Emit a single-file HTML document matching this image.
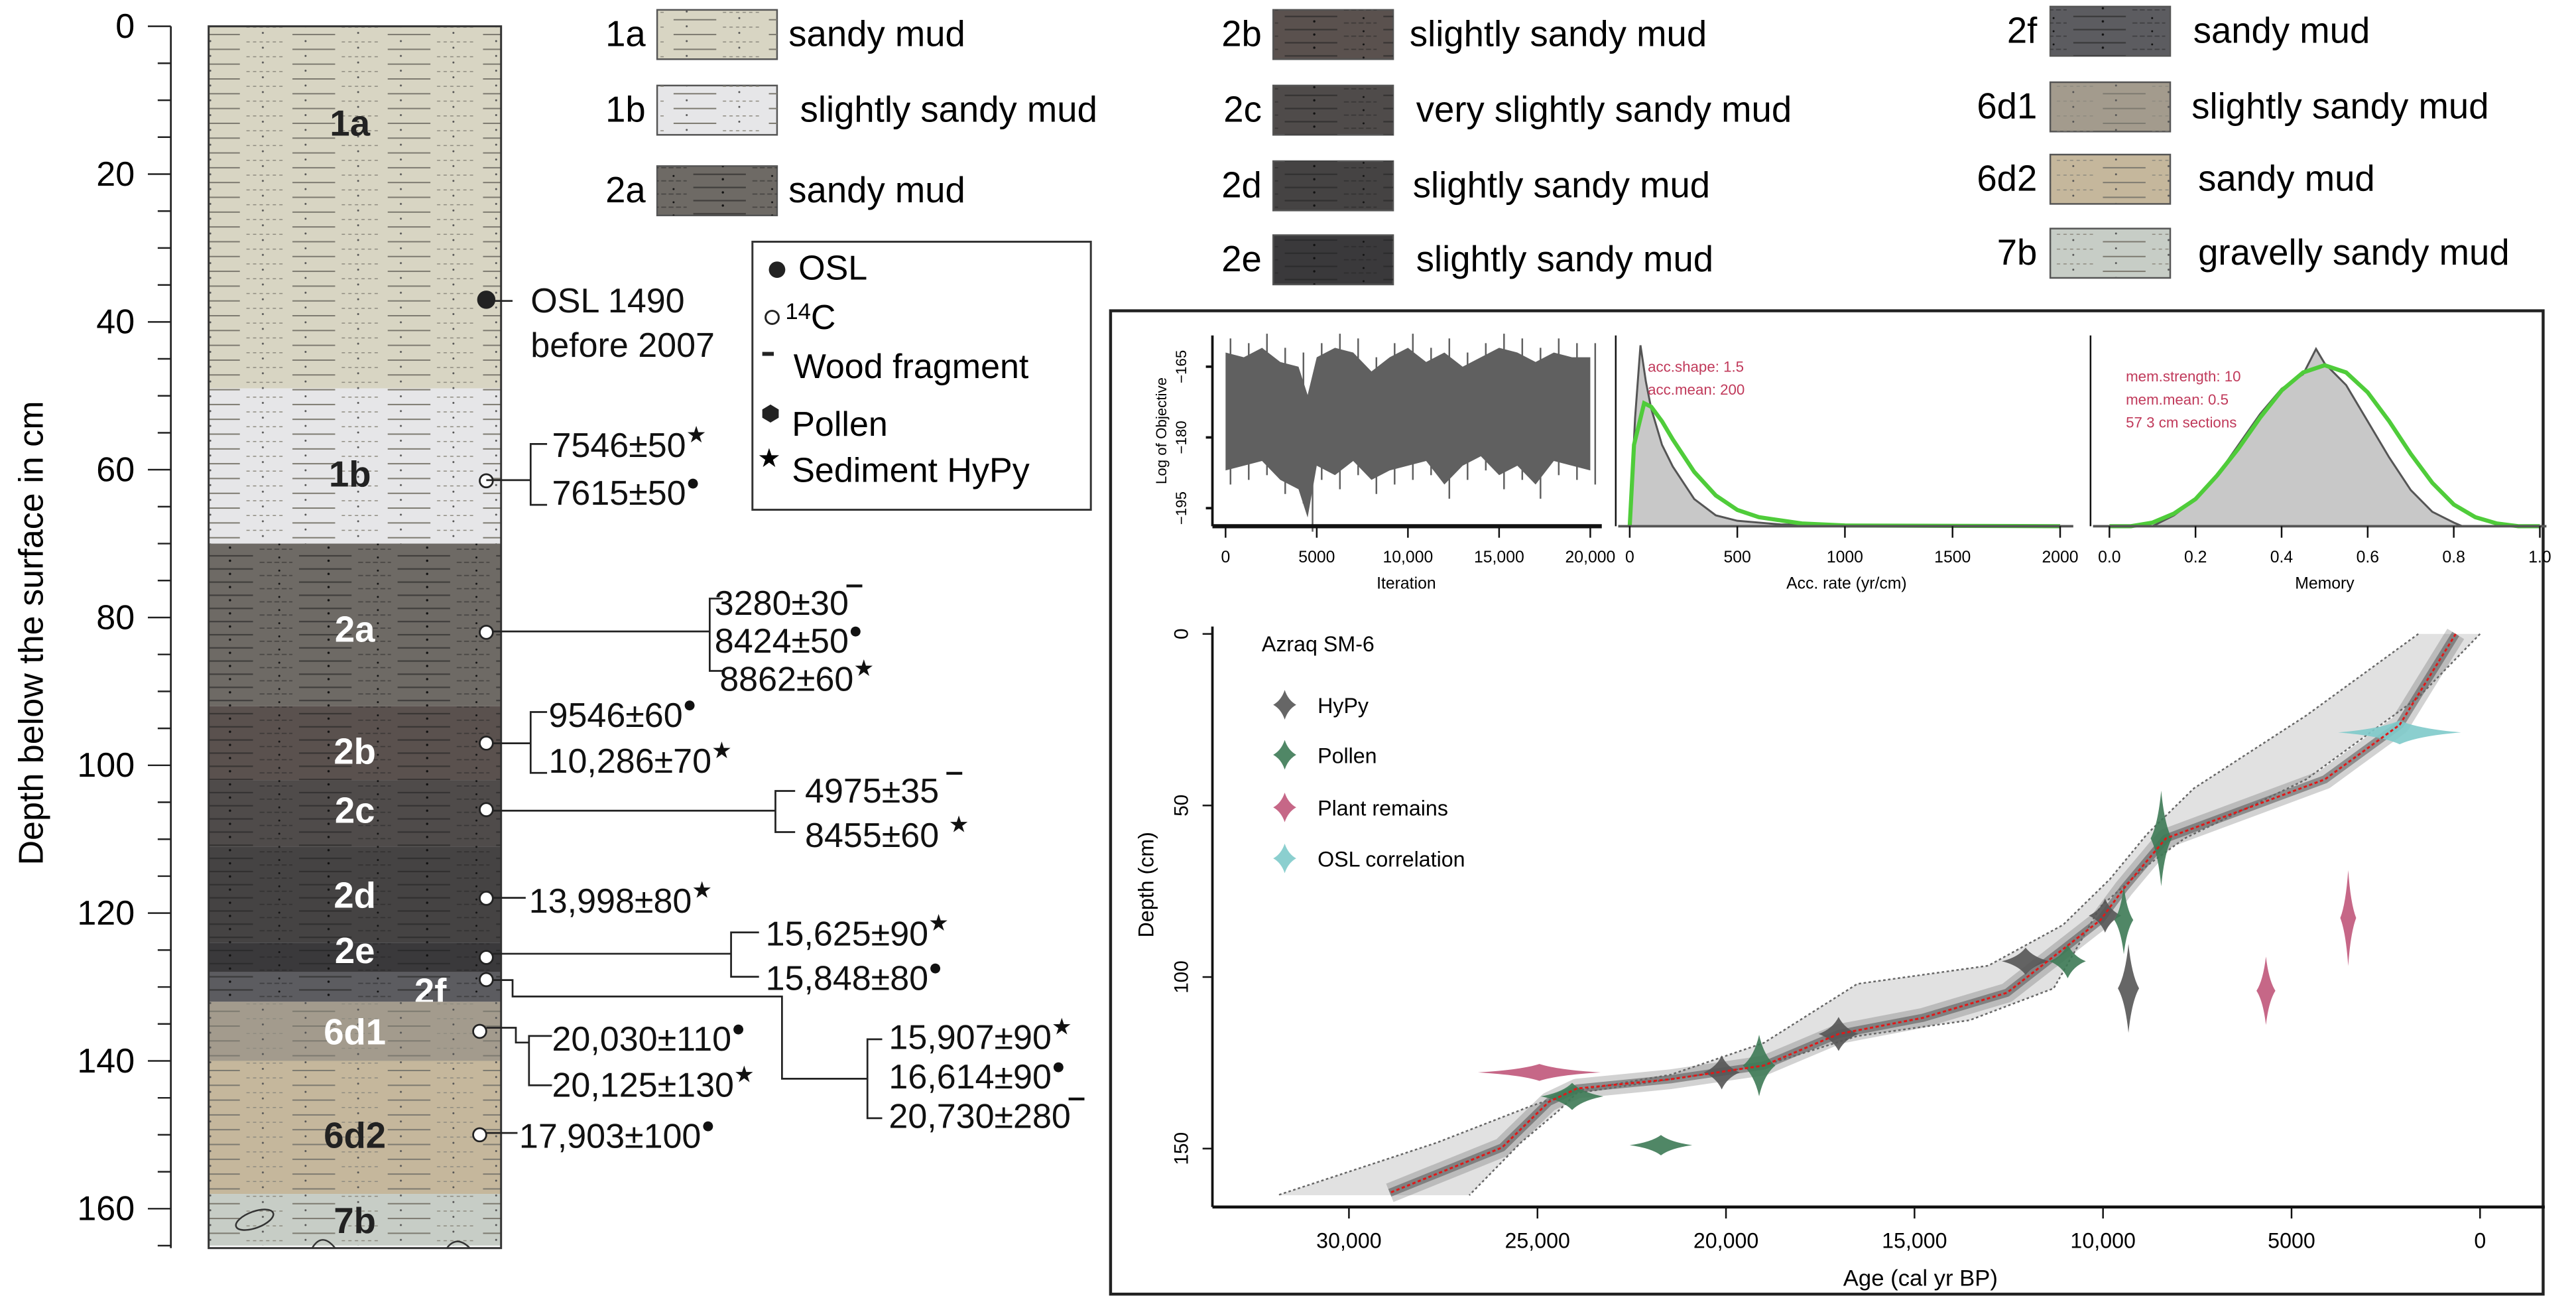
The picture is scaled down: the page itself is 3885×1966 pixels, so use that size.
<!DOCTYPE html>
<html><head><meta charset="utf-8"><title>Azraq SM-6 core log and age-depth model</title>
<style>
html,body{margin:0;padding:0;background:#fff;}
svg{display:block;}
text{font-family:"Liberation Sans",sans-serif;}
</style></head>
<body>
<svg id="fig" width="3885" height="1966" viewBox="0 0 1568 793" preserveAspectRatio="none" xmlns="http://www.w3.org/2000/svg">
<defs>
  <pattern id="patL" width="58" height="9" patternUnits="userSpaceOnUse">
    <line x1="4" y1="3" x2="30" y2="3" stroke="#7d7a70" stroke-width="0.8"/>
    <line x1="34" y1="7.5" x2="56" y2="7.5" stroke="#8e8b80" stroke-width="0.6" stroke-dasharray="2,2"/>
    <circle cx="12" cy="7" r="0.6" fill="#555"/><circle cx="44" cy="2" r="0.6" fill="#555"/>
  </pattern>
  <pattern id="patD" width="60" height="8" patternUnits="userSpaceOnUse">
    <line x1="2" y1="2" x2="34" y2="2" stroke="#222" stroke-width="0.9" opacity="0.6"/>
    <line x1="38" y1="6" x2="58" y2="6" stroke="#222" stroke-width="0.7" opacity="0.5" stroke-dasharray="3,1.5"/>
    <circle cx="20" cy="5" r="0.7" fill="#111"/><circle cx="50" cy="3" r="0.6" fill="#111"/>
  </pattern>
</defs>

<g id="column"></g>
<g id="depthAxis"></g>
<text transform="translate(26,385) rotate(-90)" text-anchor="middle" font-size="21">Depth below the surface in cm</text>

<g id="litLegend"></g>

<g>
  <rect x="458" y="147" width="206" height="163" fill="#fff" stroke="#333" stroke-width="1.2"/>
  <circle cx="473" cy="164" r="5" fill="#222"/><text x="486" y="170" font-size="21">OSL</text>
  <circle cx="470" cy="193" r="4" fill="#fff" stroke="#222" stroke-width="1.2"/><text x="478" y="200" font-size="21"><tspan font-size="14" dy="-6">14</tspan><tspan dy="6">C</tspan></text>
  <rect x="464" y="214" width="7" height="2.4" fill="#222"/><text x="483" y="230" font-size="21">Wood fragment</text>
  <polygon points="469,246 474,249 474,254 469,257 464,254 464,249" fill="#222"/><text x="482" y="265" font-size="21">Pollen</text>
  <text x="461" y="284" font-size="16">★</text><text x="482" y="293" font-size="21">Sediment HyPy</text>
</g>

<g font-size="21" fill="#111" stroke="none">
  <g fill="none" stroke="#222" stroke-width="1.1">
    <line x1="296" y1="183" x2="312" y2="183"/>
    <polyline points="296,292 323,292"/><polyline points="333,270 323,270 323,307 333,307"/>
    <polyline points="300,384 432,384"/><polyline points="440,364 432,364 432,408 440,408"/>
    <polyline points="300,452 323,452"/><polyline points="333,433 323,433 323,470 333,470"/>
    <polyline points="300,493 472,493"/><polyline points="484,481 472,481 472,506 484,506"/>
    <polyline points="300,546 320,546"/>
    <polyline points="300,580 445,580"/><polyline points="462,567 445,567 445,594 462,594"/>
    <polyline points="300,596 312,596 312,606 476,606 476,656 528,656"/><polyline points="537,632 528,632 528,680 537,680"/>
    <polyline points="296,625 314,625 314,634 322,634"/><polyline points="336,630 322,630 322,660 336,660"/>
    <polyline points="296,689 315,689"/>
  </g>
  <text x="323" y="190">OSL 1490</text><text x="323" y="217">before 2007</text>
  <text x="336" y="278">7546±50<tspan font-size="14" dy="-9">★</tspan></text>
  <text x="336" y="307">7615±50<tspan font-size="14" dy="-9">●</tspan></text>
  <text x="435" y="374">3280±30<tspan dy="-2" font-weight="bold">‾</tspan></text>
  <text x="435" y="397">8424±50<tspan font-size="14" dy="-9">●</tspan></text>
  <text x="438" y="420">8862±60<tspan font-size="14" dy="-9">★</tspan></text>
  <text x="334" y="442">9546±60<tspan font-size="14" dy="-9">●</tspan></text>
  <text x="334" y="470">10,286±70<tspan font-size="14" dy="-9">★</tspan></text>
  <text x="490" y="488">4975±35 <tspan dy="-2" font-weight="bold">‾</tspan></text>
  <text x="490" y="515">8455±60 <tspan font-size="14" dy="-9">★</tspan></text>
  <text x="322" y="555">13,998±80<tspan font-size="14" dy="-9">★</tspan></text>
  <text x="466" y="575">15,625±90<tspan font-size="14" dy="-9">★</tspan></text>
  <text x="466" y="602">15,848±80<tspan font-size="14" dy="-9">●</tspan></text>
  <text x="541" y="638">15,907±90<tspan font-size="14" dy="-9">★</tspan></text>
  <text x="541" y="662">16,614±90<tspan font-size="14" dy="-9">●</tspan></text>
  <text x="541" y="686">20,730±280<tspan dy="-2" font-weight="bold">‾</tspan></text>
  <text x="336" y="639">20,030±110<tspan font-size="14" dy="-9">●</tspan></text>
  <text x="336" y="667">20,125±130<tspan font-size="14" dy="-9">★</tspan></text>
  <text x="316" y="698">17,903±100<tspan font-size="14" dy="-9">●</tspan></text>
</g>

<rect x="676" y="189" width="872" height="598" fill="#fff" stroke="#222" stroke-width="1.8"/>
<g id="trace"></g>
<g id="accPlot"></g>
<g id="memPlot"></g>
<g id="ageModel"></g>
</svg>

<script>
// ---------- data: column ----------
var layerNames = ["1a","1b","2a","2b","2c","2d","2e","2f","6d1","6d2","7b"];
var layerTops = [0,49,70,92,102,111,124,128,132,140,158];
var layerBottoms = [49,70,92,102,111,124,128,132,140,158,165];
var layerColors = ["#d8d5c3","#e6e6e8","#6e6a65","#5a514e","#4f4b4a","#454343","#3a393b","#5c5c60","#a39b8d","#c5b79c","#c7cdc6"];
var layerLabelDepth = [13,60.5,81.5,98,106,117.5,125,130.5,136,150,161.5];
var sampleDepths = [37,61.5,82,97,106,118,126,129,136,150];
var sampleFilled = [1,0,0,0,0,0,0,0,0,0];
var depthTicks = [0,20,40,60,80,100,120,140,160];

var NS = "http://www.w3.org/2000/svg";
function mk(tag, attrs, parent){ var e=document.createElementNS(NS,tag); for(var k in attrs) e.setAttribute(k,attrs[k]); if(parent) parent.appendChild(e); return e; }
function yDepth(d){ return 16 + d*4.494; }

var col = document.getElementById("column");
for (var i=0;i<layerNames.length;i++){
  var y0=yDepth(layerTops[i]), y1=yDepth(layerBottoms[i]);
  var r = mk("rect",{x:127,y:y0,width:178,height:y1-y0,fill:layerColors[i]},col);
  
  
  var dark = i>=2 && i<=7;
  mk("rect",{x:127,y:y0,width:178,height:y1-y0,fill:dark?"url(#patD)":"url(#patL)"},col);
  var lightText = (i>=2 && i<=8);
  var t = mk("text",{x:(i==7?262:(i==0||i==1?213:216)),y:yDepth(layerLabelDepth[i])+8,"font-size":22,"font-weight":"bold","text-anchor":"middle",fill:lightText?"#fff":"#222"},col);
  t.textContent = layerNames[i];
  
  
}
mk("ellipse",{cx:155,cy:yDepth(161.5),rx:12,ry:5,fill:"none",stroke:"#333","stroke-width":1,transform:"rotate(-20 155 "+yDepth(161.5)+")"},col);
mk("path",{d:"M190 759 q6 -10 14 0 M272 759 q6 -8 14 0",fill:"none",stroke:"#333","stroke-width":1},col);
mk("rect",{x:127,y:16,width:178,height:743,fill:"none",stroke:"#333","stroke-width":1.2},col);
for (var i=0;i<sampleDepths.length;i++){
  var cx = i>=8 ? 292 : 296;
  var c = mk("circle",{cx:cx,cy:yDepth(sampleDepths[i]),r:sampleFilled[i]?5:4,fill:sampleFilled[i]?"#222":"#fff",stroke:"#222","stroke-width":1.1},col);
  
  
}
var ax = document.getElementById("depthAxis");
mk("line",{x1:104,y1:16,x2:104,y2:759,stroke:"#222","stroke-width":1.1},ax);
for (var dd=0; dd<=165; dd+=5){
  var major = dd%20===0;
  mk("line",{x1:major?90:96,y1:yDepth(dd),x2:104,y2:yDepth(dd),stroke:"#222","stroke-width":1},ax);
}
for (var i=0;i<depthTicks.length;i++){
  var t = mk("text",{x:82,y:yDepth(depthTicks[i])+7,"font-size":21,"text-anchor":"end"},ax);
  t.textContent = depthTicks[i];
  
  
}

// ---------- lithology legend ----------
var legCodes = ["1a","1b","2a","2b","2c","2d","2e","2f","6d1","6d2","7b"];
var legDesc = ["sandy mud","slightly sandy mud","sandy mud","slightly sandy mud","very slightly sandy mud","slightly sandy mud","slightly sandy mud","sandy mud","slightly sandy mud","sandy mud","gravelly sandy mud"];
var legPos = [[393,400,6,480],[393,400,52,487],[393,400,101,480],[768,775,6,858],[768,775,52,862],[768,775,98,860],[768,775,143,862],[1240,1248,4,1335],[1240,1248,50,1334],[1240,1248,94,1338],[1240,1248,139,1338]];
var lg = document.getElementById("litLegend");
for (var i=0;i<legCodes.length;i++){
  var p = legPos[i];
  var g = mk("g",{},lg);
  
  
  var t1 = mk("text",{x:p[0],y:p[2]+22,"font-size":22,"text-anchor":"end"},g); t1.textContent=legCodes[i];
  mk("rect",{x:p[1],y:p[2],width:73,height:30,fill:layerColors[i],stroke:"#555","stroke-width":1},g);
  var dk = i>=2 && i<=7;
  mk("rect",{x:p[1],y:p[2],width:73,height:30,fill:dk?"url(#patD)":"url(#patL)"},g);
  var t2 = mk("text",{x:p[3],y:p[2]+22,"font-size":22},g); t2.textContent=legDesc[i];
}

// ---------- trace plot (log objective) ----------
var traceIter = [0,1000,2000,3000,4000,4500,5000,6000,7000,8000,9000,10000,11000,12000,13000,14000,15000,16000,17000,18000,19000,20000];
var traceUpper = [-162,-163,-161,-164,-165,-171,-163,-161,-162,-166,-163,-161,-164,-162,-165,-163,-161,-162,-164,-162,-163,-163];
var traceLower = [-187,-186,-185,-189,-191,-197,-186,-188,-185,-189,-187,-186,-185,-190,-186,-184,-188,-186,-190,-185,-186,-187];
var objTicks = [-165,-180,-195];
var iterTicks = [0,5000,10000,15000,20000];
var iterLabels = ["0","5000","10,000","15,000","20,000"];
function xIter(v){ return 746 + v*0.0111; }
function yObj(v){ return 223 + (-165 - v)*2.867; }
var tr = document.getElementById("trace");
var pts = [];
for (var i=0;i<traceIter.length;i++) pts.push(xIter(traceIter[i])+","+yObj(traceUpper[i]));
for (var i=traceIter.length-1;i>=0;i--) pts.push(xIter(traceIter[i])+","+yObj(traceLower[i]));
var band = mk("polygon",{points:pts.join(" "),fill:"#606060"},tr);


for (var i=0;i<traceIter.length;i++){
  mk("line",{x1:xIter(traceIter[i])+3,y1:yObj(traceUpper[i]+3),x2:xIter(traceIter[i])+3,y2:yObj(traceLower[i]-3),stroke:"#606060","stroke-width":1},tr);
}
mk("line",{x1:738,y1:204,x2:738,y2:320,stroke:"#111","stroke-width":1.5},tr);
mk("line",{x1:738,y1:320,x2:975,y2:320,stroke:"#111","stroke-width":2.5},tr);
for (var i=0;i<objTicks.length;i++){
  mk("line",{x1:734,y1:yObj(objTicks[i]),x2:738,y2:yObj(objTicks[i]),stroke:"#111","stroke-width":1.5},tr);
  var t = mk("text",{transform:"translate(722,"+yObj(objTicks[i])+") rotate(-90)","font-size":9,"text-anchor":"middle"},tr);
  t.textContent = "\u2212"+(-objTicks[i]);
}
var t = mk("text",{transform:"translate(710,262) rotate(-90)","font-size":9,"text-anchor":"middle"},tr); t.textContent="Log of Objective";
for (var i=0;i<iterTicks.length;i++){
  mk("line",{x1:xIter(iterTicks[i]),y1:320,x2:xIter(iterTicks[i]),y2:327,stroke:"#111","stroke-width":1},tr);
  var t = mk("text",{x:xIter(iterTicks[i]),y:342,"font-size":10,"text-anchor":"middle"},tr); t.textContent=iterLabels[i];
}
var t = mk("text",{x:856,y:358,"font-size":10,"text-anchor":"middle"},tr); t.textContent="Iteration";

// ---------- acc rate plot ----------
var accX = [0,25,50,75,100,150,200,300,400,500,700,1000,2000];
var accPost = [0,0.6,1.0,0.8,0.65,0.45,0.33,0.15,0.06,0.03,0.01,0.003,0];
var accPriorX = [0,20,67,100,150,200,300,400,500,600,800,1000,2000];
var accPrior = [0,0.45,0.68,0.66,0.58,0.48,0.3,0.17,0.09,0.05,0.015,0.004,0];
var accTicks = [0,500,1000,1500,2000];
function xAcc(v){ return 992 + v*0.131; }
function yDen(v){ return 320 - v*110; }
var ap = document.getElementById("accPlot");
var pa = ["M"+xAcc(accX[0])+","+yDen(0)];
for (var i=0;i<accX.length;i++) pa.push("L"+xAcc(accX[i])+","+yDen(accPost[i]));
pa.push("Z");
var e = mk("path",{d:pa.join(" "),fill:"#c8c8c8",stroke:"#555","stroke-width":1.2},ap);


var p2 = [];
for (var i=0;i<accPriorX.length;i++) p2.push((i?"L":"M")+xAcc(accPriorX[i])+","+yDen(accPrior[i]));
var e = mk("path",{d:p2.join(" "),fill:"none",stroke:"#4fcc3a","stroke-width":2.5},ap);


mk("line",{x1:983.5,y1:204,x2:983.5,y2:320,stroke:"#111","stroke-width":1},ap);
mk("line",{x1:985,y1:320,x2:1262,y2:320,stroke:"#555","stroke-width":1.5},ap);
for (var i=0;i<accTicks.length;i++){
  mk("line",{x1:xAcc(accTicks[i]),y1:320,x2:xAcc(accTicks[i]),y2:327,stroke:"#111","stroke-width":1},ap);
  var t = mk("text",{x:xAcc(accTicks[i]),y:342,"font-size":10,"text-anchor":"middle"},ap); t.textContent=accTicks[i];
}
var t = mk("text",{x:1124,y:358,"font-size":10,"text-anchor":"middle"},ap); t.textContent="Acc. rate (yr/cm)";
var t = mk("text",{x:1003,y:226,"font-size":9,fill:"#c0395a"},ap); t.textContent="acc.shape:  1.5";
var t = mk("text",{x:1003,y:240,"font-size":9,fill:"#c0395a"},ap); t.textContent="acc.mean:  200";

// ---------- memory plot ----------
var memX = [0.1,0.15,0.2,0.25,0.3,0.35,0.4,0.45,0.48,0.5,0.55,0.6,0.65,0.7,0.75,0.8,0.82];
var memPost = [0,0.06,0.15,0.28,0.45,0.62,0.76,0.84,0.98,0.9,0.78,0.58,0.38,0.2,0.08,0.02,0];
var memPriorX = [0.0,0.05,0.1,0.15,0.2,0.25,0.3,0.35,0.4,0.45,0.5,0.55,0.6,0.65,0.7,0.75,0.8,0.85,0.9,0.95,1.0];
var memPrior = [0,0,0.02,0.07,0.15,0.28,0.43,0.6,0.75,0.85,0.89,0.85,0.74,0.58,0.4,0.24,0.12,0.05,0.015,0,0];
var memTicks = [0,0.2,0.4,0.6,0.8,1.0];
var memLabels = ["0.0","0.2","0.4","0.6","0.8","1.0"];
function xMem(v){ return 1284 + v*262; }
var mp = document.getElementById("memPlot");
var pm = ["M"+xMem(memX[0])+","+yDen(0)];
for (var i=0;i<memX.length;i++) pm.push("L"+xMem(memX[i])+","+yDen(memPost[i]));
pm.push("Z");
var e = mk("path",{d:pm.join(" "),fill:"#c8c8c8",stroke:"#555","stroke-width":1.2},mp);


var p3 = [];
for (var i=0;i<memPriorX.length;i++) p3.push((i?"L":"M")+xMem(memPriorX[i])+","+yDen(memPrior[i]));
var e = mk("path",{d:p3.join(" "),fill:"none",stroke:"#4fcc3a","stroke-width":2.5},mp);


mk("line",{x1:1272.5,y1:204,x2:1272.5,y2:320,stroke:"#111","stroke-width":1},mp);
mk("line",{x1:1274,y1:320,x2:1550,y2:320,stroke:"#555","stroke-width":1.5},mp);
for (var i=0;i<memTicks.length;i++){
  mk("line",{x1:xMem(memTicks[i]),y1:320,x2:xMem(memTicks[i]),y2:327,stroke:"#111","stroke-width":1},mp);
  var t = mk("text",{x:xMem(memTicks[i]),y:342,"font-size":10,"text-anchor":"middle"},mp); t.textContent=memLabels[i];
}
var t = mk("text",{x:1415,y:358,"font-size":10,"text-anchor":"middle"},mp); t.textContent="Memory";
var memTxt = ["mem.strength: 10","mem.mean: 0.5","57 3 cm sections"];
for (var i=0;i<3;i++){ var t = mk("text",{x:1294,y:232+i*14,"font-size":9,fill:"#c0395a"},mp); t.textContent=memTxt[i]; }

// ---------- age-depth model ----------
var medAge = [645,2133,4117,8333,9449,10069,11309,12549,14781,17013,18997,21477,23957,24701,25941,28917];
var medDepth = [0,26.5,42.4,59.6,74.2,83.4,94,104.6,111.9,116.6,125.8,129.8,132.5,136.4,149.7,162.9];
var oldAge = [1637,4613,7589,8829,9821,11061,13045,16517,18997,21477,23957,25197,27677,31893];
var oldDepth = [0,23.8,45,58.3,71.5,84.8,96.7,102,119.2,128.5,133.1,137.7,148.3,163.6];
var youngAge = [0,1637,4613,7837,8829,10069,11309,13541,16517,18997,21477,23957,24453,25445,26809];
var youngDepth = [0,18.5,42.4,59.6,67.5,79.5,103.3,112.6,117.2,125.8,129.8,133.8,139.1,148.3,163.6];
var dateAge = [9945,12053,9325,17013,20113,8457,9449,10937,19121,24081,21725,3497,5679,24949,2133];
var dateDepth = [82.1,95.4,103.3,116.6,127.8,59.6,83.4,95.4,125.8,134.8,149,82.8,104,127.8,28.7];
var dateType = [0,0,0,0,0,1,1,1,1,1,1,2,2,2,3];
var dateAgeSpread = [300,500,150,400,350,150,120,350,300,700,700,80,120,1500,1500];
var dateDepthSpread = [4,3,12,4,4,13,9,4,8,3,2,13,9,1.5,2.5];
var typeNames = ["HyPy","Pollen","Plant remains","OSL correlation"];
var typeColors = ["#555555","#3d7a55","#c0577a","#7ecaca"];
var ageTicks = [30000,25000,20000,15000,10000,5000,0];
var ageLabels = ["30,000","25,000","20,000","15,000","10,000","5000","0"];
var modelDepthTicks = [0,50,100,150];

function xAge(a){ return 1509.6 - a*0.02295; }
function yMD(d){ return 385.5 + d*2.0866; }
var am = document.getElementById("ageModel");
var bp = [];
for (var i=0;i<oldAge.length;i++) bp.push(xAge(oldAge[i])+","+yMD(oldDepth[i]));
for (var i=youngAge.length-1;i>=0;i--) bp.push(xAge(youngAge[i])+","+yMD(youngDepth[i]));
var e = mk("polygon",{points:bp.join(" "),fill:"#d4d4d4",opacity:0.7},am);


var mpth = [];
for (var i=0;i<medAge.length;i++) mpth.push((i?"L":"M")+xAge(medAge[i])+","+yMD(medDepth[i]));
mk("path",{d:mpth.join(" "),fill:"none",stroke:"#4a4a4a","stroke-width":12,opacity:0.25,"stroke-linejoin":"round"},am);
mk("path",{d:mpth.join(" "),fill:"none",stroke:"#3a3a3a","stroke-width":5,opacity:0.45,"stroke-linejoin":"round"},am);
function linePath(A,D){ var s=[]; for (var i=0;i<A.length;i++) s.push((i?"L":"M")+xAge(A[i])+","+yMD(D[i])); return s.join(" "); }
var e = mk("path",{d:linePath(oldAge,oldDepth),fill:"none",stroke:"#666","stroke-width":1,"stroke-dasharray":"1.5,1.5"},am);


var e = mk("path",{d:linePath(youngAge,youngDepth),fill:"none",stroke:"#666","stroke-width":1,"stroke-dasharray":"1.5,1.5"},am);


function violin(cx,cy,w,h,fill,parent){
  var d = "M"+(cx-w)+","+cy+" Q"+(cx-w*0.3)+","+(cy-h*0.3)+" "+cx+","+(cy-h)+" Q"+(cx+w*0.3)+","+(cy-h*0.3)+" "+(cx+w)+","+cy+
          " Q"+(cx+w*0.3)+","+(cy+h*0.3)+" "+cx+","+(cy+h)+" Q"+(cx-w*0.3)+","+(cy+h*0.3)+" "+(cx-w)+","+cy+"Z";
  return mk("path",{d:d,fill:fill,opacity:0.9},parent);
}
for (var i=0;i<dateAge.length;i++){
  var w = dateAgeSpread[i]*0.02295 + 3, h = dateDepthSpread[i]*2.0866 + 2;
  var v = violin(xAge(dateAge[i]),yMD(dateDepth[i]),w,h,typeColors[dateType[i]],am);
  
  
}
var e = mk("path",{d:mpth.join(" "),fill:"none",stroke:"#e01818","stroke-width":1.2,"stroke-dasharray":"2,1.5"},am);


mk("line",{x1:738,y1:381,x2:738,y2:734,stroke:"#111","stroke-width":1.5},am);
mk("line",{x1:738,y1:734,x2:1549,y2:734,stroke:"#111","stroke-width":1.8},am);
for (var i=0;i<ageTicks.length;i++){
  mk("line",{x1:xAge(ageTicks[i]),y1:734,x2:xAge(ageTicks[i]),y2:741,stroke:"#111","stroke-width":1},am);
  var t = mk("text",{x:xAge(ageTicks[i]),y:759,"font-size":13,"text-anchor":"middle"},am);
  t.textContent = ageLabels[i];
  
  
}
for (var i=0;i<modelDepthTicks.length;i++){
  mk("line",{x1:732,y1:yMD(modelDepthTicks[i]),x2:738,y2:yMD(modelDepthTicks[i]),stroke:"#111","stroke-width":1},am);
  var t = mk("text",{transform:"translate(723,"+yMD(modelDepthTicks[i])+") rotate(-90)","font-size":12,"text-anchor":"middle"},am);
  t.textContent = modelDepthTicks[i];
}
var t = mk("text",{x:1169,y:782,"font-size":14,"text-anchor":"middle"},am); t.textContent="Age (cal yr BP)";
 
var t = mk("text",{transform:"translate(702,538) rotate(-90)","font-size":13,"text-anchor":"middle"},am); t.textContent="Depth (cm)";
 
var t = mk("text",{x:768,y:396,"font-size":13},am); t.textContent="Azraq SM-6";
 
var legY = [428.6,459,491,522];
for (var i=0;i<4;i++){
  var g = mk("g",{},am);
  
  
  violin(782,legY[i],7,9,typeColors[i],g);
  var t = mk("text",{x:802,y:legY[i]+5,"font-size":13},g); t.textContent=typeNames[i];
}
</script>
</body></html>
